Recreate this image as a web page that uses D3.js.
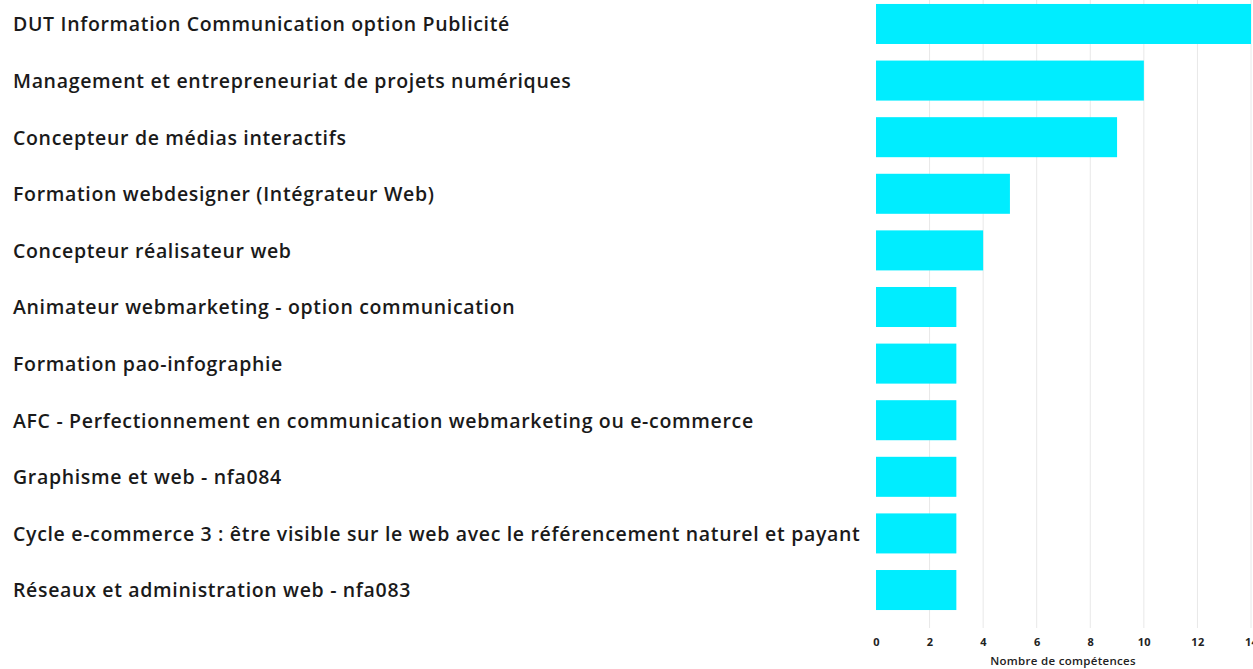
<!DOCTYPE html>
<html>
<head>
<meta charset="utf-8">
<script src="https://cdn.jsdelivr.net/npm/d3@7"></script>
<style>
  body { margin: 0; background: #fff; }
  svg { display: block; }
  .label { font-family: "Open Sans", sans-serif; font-weight: 600; font-size: 19.5px; letter-spacing: 0.67px; fill: #1a1a1a; }
  .axis text { font-family: "Open Sans", sans-serif; font-weight: 700; font-size: 11px; letter-spacing: 0.3px; fill: #222; }
  .grid line { stroke: #e8e8e8; }
</style>
</head>
<body>
<svg id="chart" width="1253" height="669"></svg>
<script>
const formations = [
  "DUT Information Communication option Publicité",
  "Management et entrepreneuriat de projets numériques",
  "Concepteur de médias interactifs",
  "Formation webdesigner (Intégrateur Web)",
  "Concepteur réalisateur web",
  "Animateur webmarketing - option communication",
  "Formation pao-infographie",
  "AFC - Perfectionnement en communication webmarketing ou e-commerce",
  "Graphisme et web - nfa084",
  "Cycle e-commerce 3 : être visible sur le web avec le référencement naturel et payant",
  "Réseaux et administration web - nfa083"
];
const competences = [14, 10, 9, 5, 4, 3, 3, 3, 3, 3, 3];
const xTicks = [0, 2, 4, 6, 8, 10, 12, 14];
const axisTitle = "Nombre de compétences";

const svg = d3.select("#chart");
const margin = {top: 0, right: 2, bottom: 55, left: 876};
const width = 1253 - margin.left - margin.right;

const data = formations.map(function(f, i) { return {name: f, value: competences[i]}; });

const x = d3.scaleLinear().domain([0, 14]).range([margin.left, margin.left + width]);
const y = d3.scaleBand().domain(formations).range([0, 614])
    .paddingInner(0.293).paddingOuter(0.07);

// grid lines
svg.append("g")
    .attr("class", "grid")
  .selectAll("line")
  .data(xTicks.slice(1))
  .enter().append("line")
    .attr("x1", function(d) { return x(d); })
    .attr("x2", function(d) { return x(d); })
    .attr("y1", 0)
    .attr("y2", 628);

svg.append("g")
  .selectAll("rect")
  .data(data)
  .enter().append("rect")
    .attr("x", x(0))
    .attr("y", function(d) { return y(d.name); })
    .attr("width", function(d) { return x(d.value) - x(0); })
    .attr("height", y.bandwidth())
    .attr("fill", "#00edff");

svg.append("g")
  .selectAll("text")
  .data(data)
  .enter().append("text")
    .attr("class", "label")
    .attr("x", 13)
    .attr("y", function(d) { return y(d.name) + y.bandwidth() / 2; })
    .attr("dy", "0.38em")
    .text(function(d) { return d.name; });

const xAxis = svg.append("g")
    .attr("class", "axis")
    .attr("transform", "translate(0,638)")
    .call(d3.axisBottom(x).tickValues(xTicks).tickSize(0).tickPadding(0));
xAxis.select(".domain").remove();

svg.append("text")
    .attr("x", x(0) + 187)
    .attr("y", 665)
    .attr("text-anchor", "middle")
    .style("font-family", "'Open Sans', sans-serif")
    .style("font-weight", 600)
    .style("font-size", "11.5px")
    .style("letter-spacing", "0.3px")
    .style("fill", "#222")
    .text(axisTitle);
</script>
</body>
</html>
